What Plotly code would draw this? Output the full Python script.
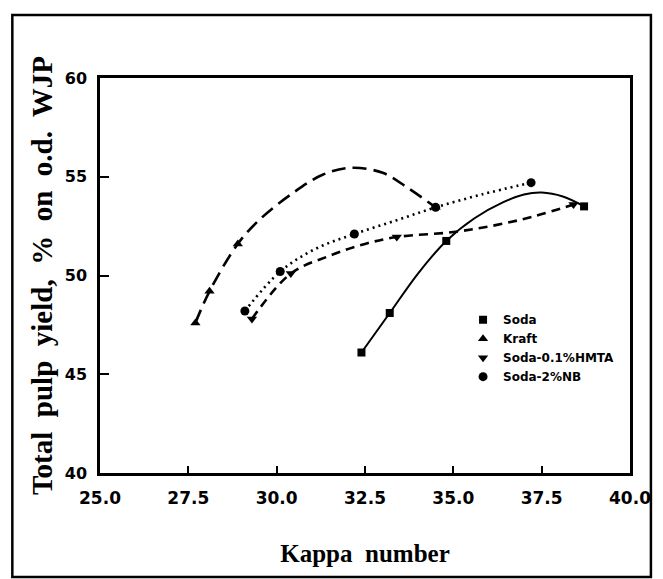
import plotly.graph_objects as go

# ---- measured data points (markers) ----
soda_kappa = [32.4, 33.2, 34.8, 38.7]
soda_yield = [46.1, 48.1, 51.75, 53.5]
kraft_kappa = [27.7, 28.1, 28.9, 34.5]
kraft_yield = [47.6, 49.2, 51.6, 53.45]
hmta_kappa = [29.3, 30.4, 33.4, 38.4]
hmta_yield = [47.8, 50.1, 51.95, 53.6]
nb_kappa = [29.1, 30.1, 32.2, 34.5, 37.2]
nb_yield = [48.2, 50.2, 52.1, 53.45, 54.7]

# ---- fitted curves as drawn in the picture ----
soda_curve_k = [32.4, 33.2, 34.0, 34.8, 35.6, 36.4, 37.0, 37.5, 38.1, 38.7]
soda_curve_y = [46.1, 48.1, 50.1, 51.75, 52.9, 53.7, 54.1, 54.2, 54.0, 53.5]
kraft_curve_k = [27.7, 28.1, 28.9, 29.5, 30.4, 31.3, 32.1, 33.0, 33.7, 34.5]
kraft_curve_y = [47.6, 49.2, 51.6, 52.8, 54.1, 55.1, 55.45, 55.2, 54.45, 53.45]
hmta_curve_k = [29.3, 30.4, 31.5, 32.5, 33.4, 35.0, 36.2, 37.3, 38.4]
hmta_curve_y = [47.8, 50.1, 51.0, 51.6, 51.95, 52.2, 52.55, 53.0, 53.6]
nb_curve_k = [29.1, 30.1, 31.1, 32.2, 33.4, 34.5, 35.8, 37.2]
nb_curve_y = [48.2, 50.2, 51.35, 52.1, 52.8, 53.45, 54.1, 54.7]

series_names = ["Soda", "Kraft", "Soda-0.1%HMTA", "Soda-2%NB"]
x_ticks = [25.0, 27.5, 30.0, 32.5, 35.0, 37.5, 40.0]
y_ticks = [40, 45, 50, 55, 60]

fig = go.Figure()

curves = [
    (soda_curve_k, soda_curve_y, "solid", 2.0),
    (kraft_curve_k, kraft_curve_y, "14px,7px", 2.6),
    (hmta_curve_k, hmta_curve_y, "9px,6px", 2.6),
    (nb_curve_k, nb_curve_y, "2px,4px", 2.6),
]
for (ck, cy, dash, w) in curves:
    fig.add_trace(go.Scatter(x=ck, y=cy, mode="lines", showlegend=False,
                             line=dict(color="black", width=w, dash=dash,
                                       shape="spline", smoothing=1.0),
                             hoverinfo="skip"))

markers = [
    (soda_kappa, soda_yield, "square", 8),
    (kraft_kappa, kraft_yield, "triangle-up", 9),
    (hmta_kappa, hmta_yield, "triangle-down", 9),
    (nb_kappa, nb_yield, "circle", 9),
]
for name, (mk, my, sym, sz) in zip(series_names, markers):
    fig.add_trace(go.Scatter(x=mk, y=my, mode="markers", name=name,
                             marker=dict(symbol=sym, size=sz, color="black")))

tick_font = dict(family="DejaVu Sans", size=17, color="black", weight="bold")
ytick_font = dict(family="DejaVu Sans", size=16, color="black", weight="bold")
title_font = dict(family="Liberation Serif", size=25, color="black", weight="bold")
ytitle_font = dict(family="Liberation Serif", size=29, color="black", weight="bold")

fig.update_layout(
    width=663, height=579,
    margin=dict(l=100, r=31, t=78, b=106),
    paper_bgcolor="white", plot_bgcolor="white",
    showlegend=True,
    legend=dict(x=0.685, y=0.425, xanchor="left", yanchor="top",
                bgcolor="rgba(0,0,0,0)", borderwidth=0,
                font=dict(family="DejaVu Sans", size=12, color="black", weight="bold"),
                itemwidth=30, tracegroupgap=0),
    xaxis=dict(range=[25, 40], tickvals=x_ticks,
               ticktext=[f"{v:.1f}" for v in x_ticks],
               ticks="inside", ticklen=7, tickwidth=2, tickcolor="black",
               ticklabelstandoff=8,
               showline=True, linecolor="black", linewidth=2.5, mirror=True,
               showgrid=False, zeroline=False, tickfont=tick_font,
               title=dict(text="Kappa  number", font=title_font, standoff=38)),
    yaxis=dict(range=[40, 60], tickvals=y_ticks,
               ticks="inside", ticklen=9, tickwidth=2, tickcolor="black",
               ticklabelstandoff=7,
               showline=True, linecolor="black", linewidth=2.5, mirror=True,
               showgrid=False, zeroline=False, tickfont=ytick_font,
               title=dict(text="Total  pulp  yield,  %  on  o.d.  WJP", font=ytitle_font, standoff=4)),
)

# outer figure frame
fig.add_shape(type="rect", xref="paper", yref="paper",
              x0=(12 - 100) / 532, x1=(653 - 100) / 532,
              y0=(473 - 577) / 395, y1=(473 - 15) / 395,
              line=dict(color="black", width=2.5), fillcolor="rgba(0,0,0,0)", layer="below")

fig.write_html("out.html")
